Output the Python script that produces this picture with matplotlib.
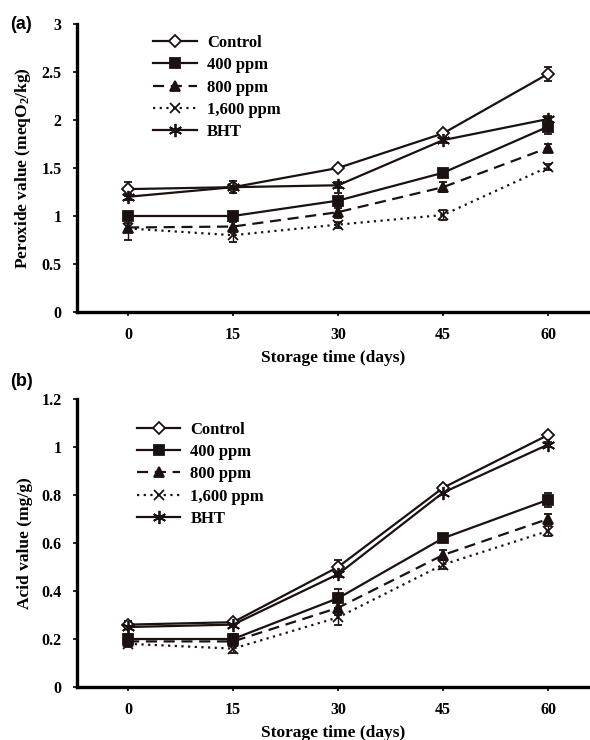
import matplotlib
matplotlib.use("Agg")
import matplotlib.pyplot as plt

plt.rcParams["font.family"] = "Liberation Serif"
plt.rcParams["font.weight"] = "bold"
plt.rcParams["mathtext.fontset"] = "custom"
plt.rcParams["mathtext.rm"] = "Liberation Serif:bold"
plt.rcParams["mathtext.it"] = "Liberation Serif:bold"
plt.rcParams["mathtext.bf"] = "Liberation Serif:bold"

# Data
days = [0, 15, 30, 45, 60]
series_names = ["Control", "400 ppm", "800 ppm", "1,600 ppm", "BHT"]

# (a) peroxide value
pv_control = [1.28, 1.30, 1.50, 1.86, 2.48]
pv_400 = [1.00, 1.00, 1.16, 1.45, 1.93]
pv_800 = [0.88, 0.89, 1.04, 1.30, 1.71]
pv_1600 = [0.87, 0.80, 0.91, 1.01, 1.51]
pv_bht = [1.20, 1.30, 1.32, 1.79, 2.01]
pv_err_control = [0.07, 0.03, 0.02, 0.03, 0.07]
pv_err_400 = [0.04, 0.03, 0.08, 0.03, 0.08]
pv_err_800 = [0.05, 0.05, 0.06, 0.05, 0.04]
pv_err_1600 = [0.12, 0.07, 0.03, 0.05, 0.03]
pv_err_bht = [0.03, 0.06, 0.03, 0.03, 0.03]

# (b) acid value
av_control = [0.26, 0.27, 0.50, 0.83, 1.05]
av_400 = [0.20, 0.20, 0.37, 0.62, 0.78]
av_800 = [0.19, 0.19, 0.33, 0.55, 0.70]
av_1600 = [0.18, 0.16, 0.29, 0.51, 0.65]
av_bht = [0.25, 0.26, 0.47, 0.81, 1.01]
av_err_control = [0.015, 0.01, 0.03, 0.01, 0.01]
av_err_400 = [0.02, 0.02, 0.04, 0.015, 0.03]
av_err_800 = [0.015, 0.015, 0.03, 0.02, 0.02]
av_err_1600 = [0.015, 0.02, 0.03, 0.02, 0.02]
av_err_bht = [0.01, 0.01, 0.01, 0.01, 0.01]

ink = "#1c1111"
styles = [
    dict(marker="D", mfc="white", ms=6.5, ls="-"),
    dict(marker="s", mfc=ink, ms=7.5, ls="-"),
    dict(marker="^", mfc=ink, ms=7.5, ls=(0, (5, 3))),
    dict(marker="x", mfc=ink, ms=7.5, ls=(0, (1, 2))),
    dict(marker=(6, 2, 0), mfc=ink, ms=9.5, ls="-"),
]

fig = plt.figure(figsize=(5.9, 7.4), dpi=100)
ax_a = fig.add_axes([0.1305, 0.5784, 0.8695, 0.3892])
ax_b = fig.add_axes([0.1305, 0.0716, 0.8695, 0.3892])


def draw(ax, values, errors, ylim, yticks, ytlabels, ylabel, leg_anchor):
    for name, vals, errs, st in zip(series_names, values, errors, styles):
        ax.errorbar(days, vals, yerr=errs, color=ink, lw=1.6, ls=st["ls"],
                    marker=st["marker"], ms=st["ms"], mfc=st["mfc"], mec=ink,
                    mew=1.3, capsize=3, elinewidth=1.0, capthick=1.0,
                    label=name)
    ax.set_xlim(-7.3, 66)
    ax.set_ylim(*ylim)
    ax.set_xticks(days)
    ax.set_yticks(yticks)
    ax.set_yticklabels(ytlabels)
    for s in ["top", "right"]:
        ax.spines[s].set_visible(False)
    for s in ["left", "bottom"]:
        ax.spines[s].set_linewidth(2.4)
        ax.spines[s].set_color("black")
    ax.tick_params(length=3, width=1.2, labelsize=11.5, pad=8)
    ax.set_xlabel("Storage time (days)", fontsize=12.5, fontweight="bold", labelpad=5)
    ax.set_ylabel(ylabel, fontsize=12.5, fontweight="bold", labelpad=6)
    handles, labels = ax.get_legend_handles_labels()
    handles = [h[0] for h in handles]
    ax.legend(handles, labels, loc="upper left", bbox_to_anchor=leg_anchor,
              frameon=False, fontsize=12, handlelength=2.6, handletextpad=0.6,
              labelspacing=0.38, borderaxespad=0)


draw(ax_a, [pv_control, pv_400, pv_800, pv_1600, pv_bht],
     [pv_err_control, pv_err_400, pv_err_800, pv_err_1600, pv_err_bht],
     (0, 3), [0, 0.5, 1, 1.5, 2, 2.5, 3],
     ["0", "0.5", "1", "1.5", "2", "2.5", "3"],
     "Peroxide value (meqO$_2$/kg)", (0.136, 0.985))
draw(ax_b, [av_control, av_400, av_800, av_1600, av_bht],
     [av_err_control, av_err_400, av_err_800, av_err_1600, av_err_bht],
     (0, 1.2), [0, 0.2, 0.4, 0.6, 0.8, 1, 1.2],
     ["0", "0.2", "0.4", "0.6", "0.8", "1", "1.2"],
     "Acid value (mg/g)", (0.104, 0.945))

fig.text(0.017, 0.967, "(a)", fontsize=13, fontweight="bold",
         family="Liberation Sans", va="center")
fig.text(0.017, 0.485, "(b)", fontsize=13, fontweight="bold",
         family="Liberation Sans", va="center")

fig.savefig("out.png", dpi=100)
